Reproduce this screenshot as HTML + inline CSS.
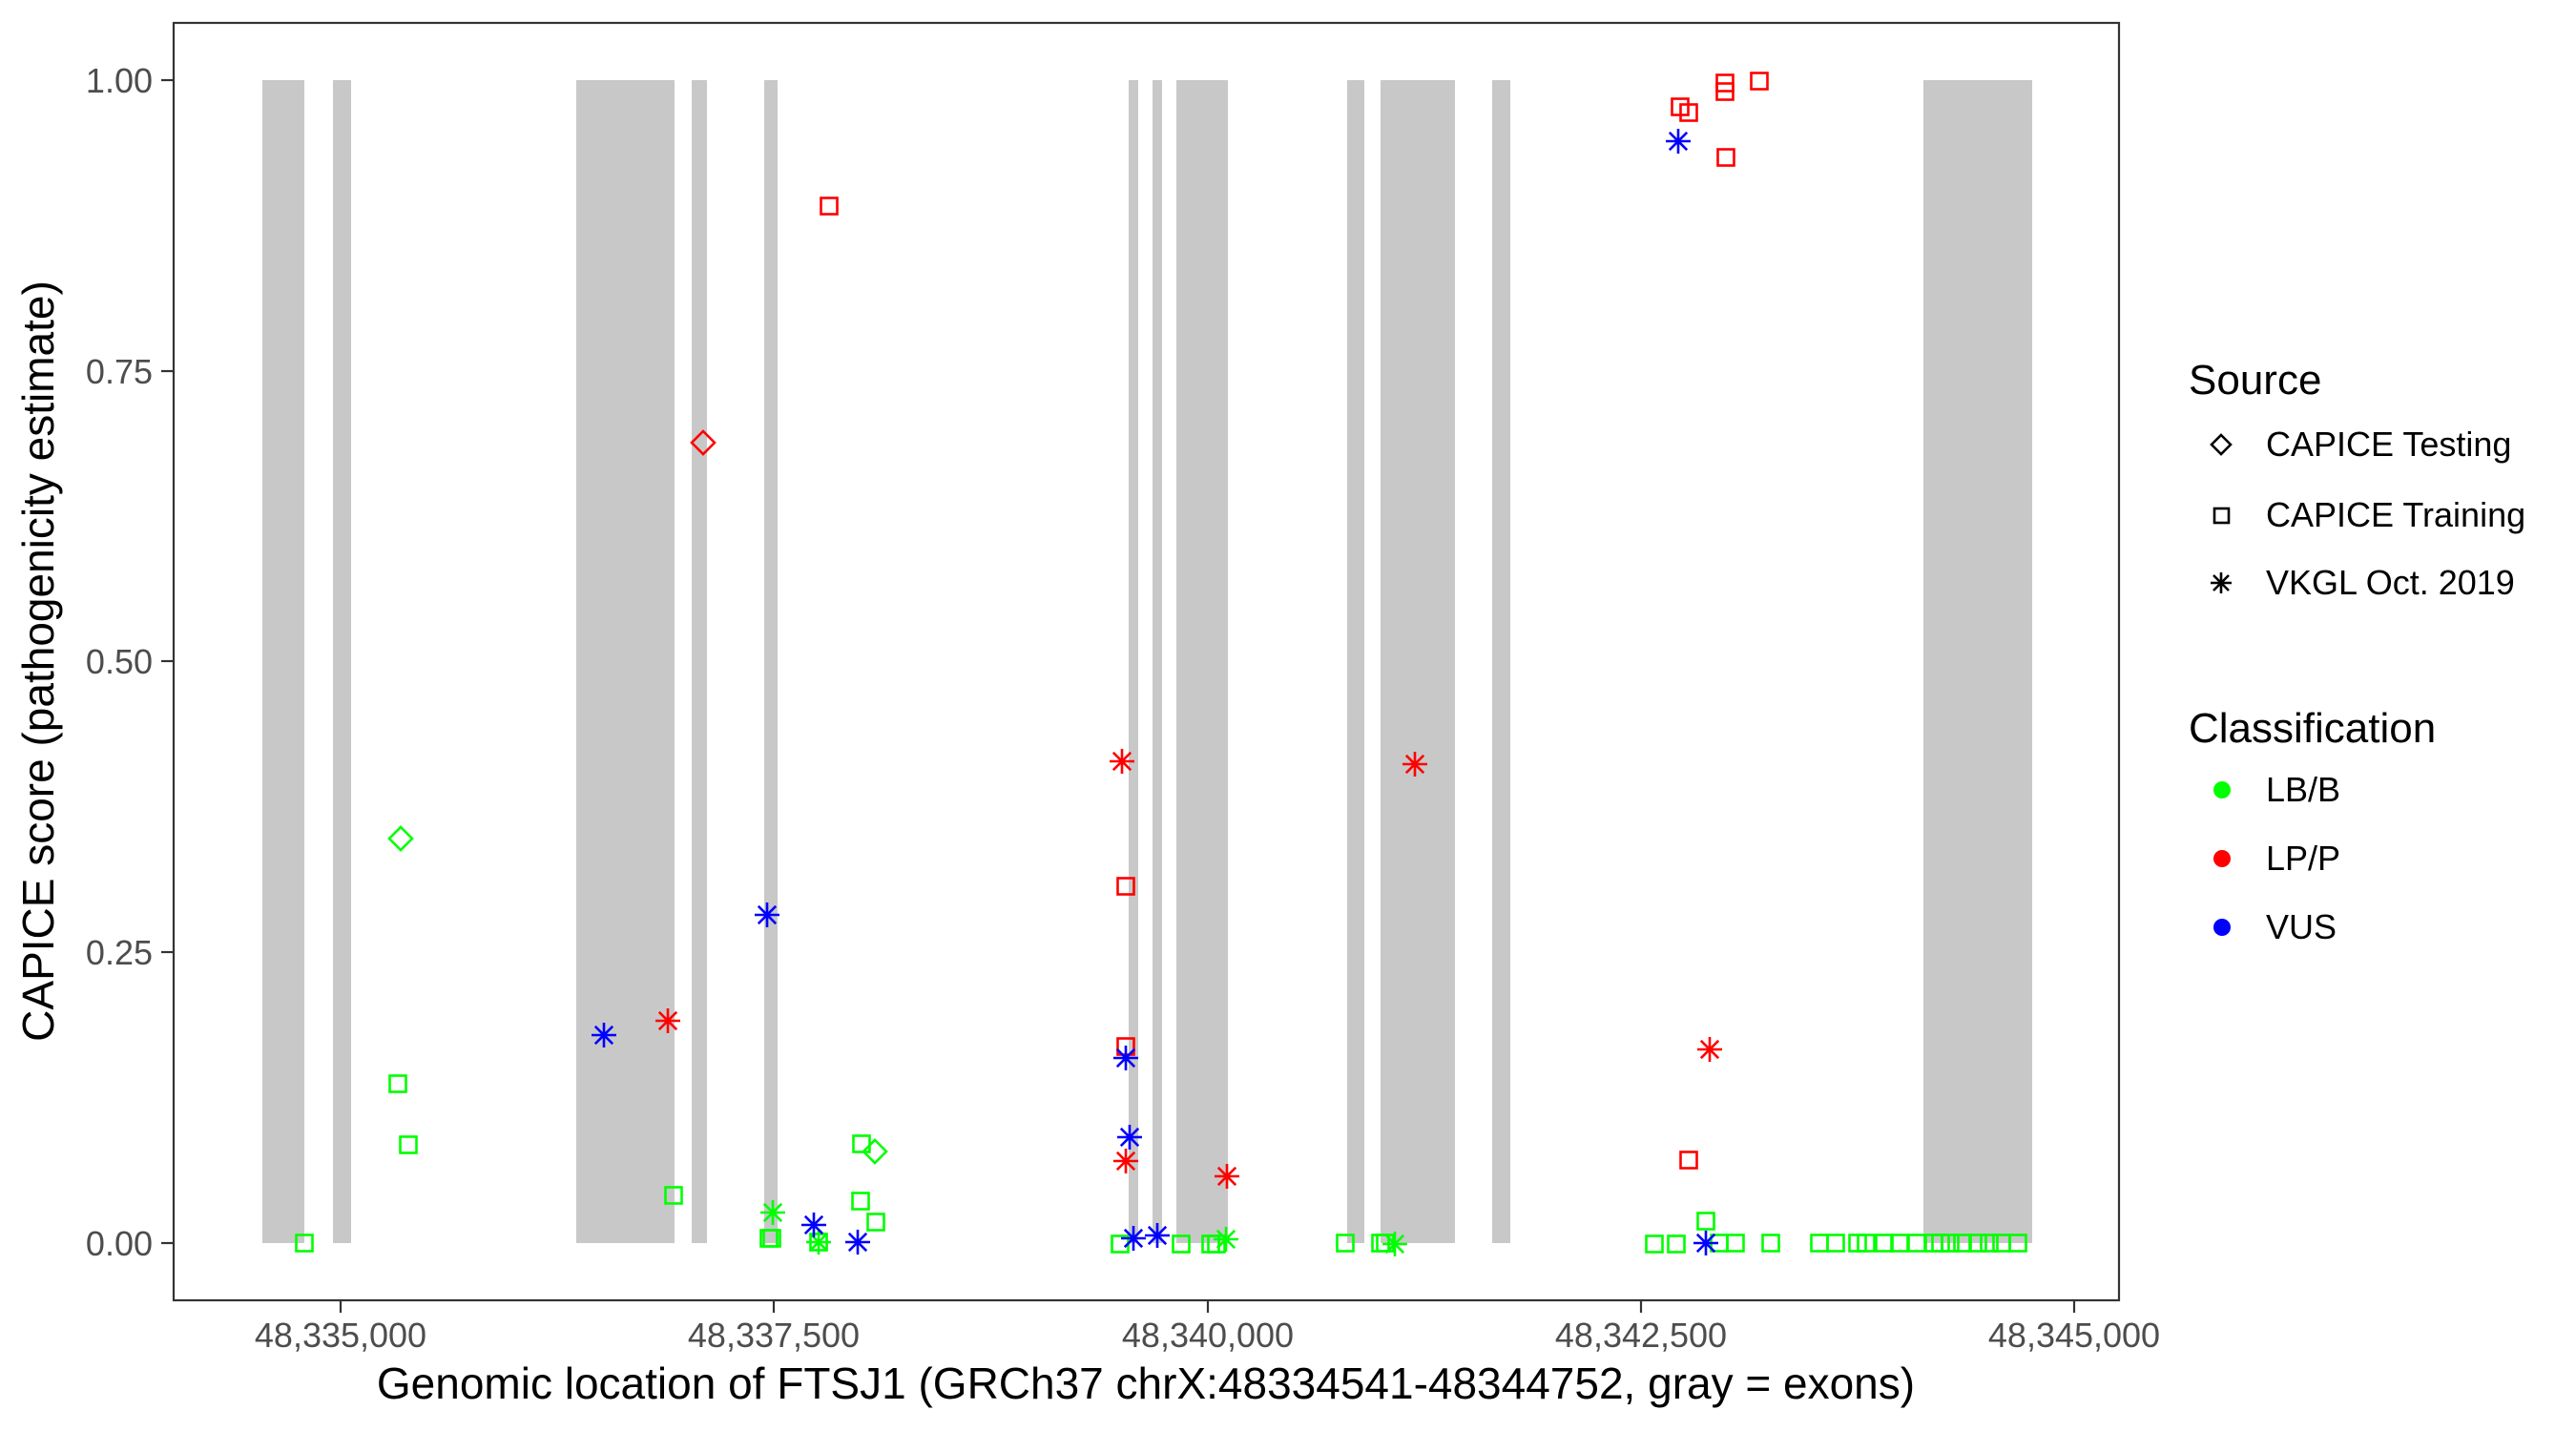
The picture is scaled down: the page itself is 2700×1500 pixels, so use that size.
<!DOCTYPE html>
<html><head><meta charset="utf-8"><style>
html,body{margin:0;padding:0;background:#fff;}
svg{display:block;}
text{font-family:"Liberation Sans",Arial,sans-serif;}
</style></head><body>
<svg width="2700" height="1500" viewBox="0 0 2700 1500" xmlns="http://www.w3.org/2000/svg">
<defs>
<g id="sq"><rect x="-8.5" y="-8.5" width="17" height="17" fill="none" stroke-width="2.6"/></g>
<g id="di"><path d="M0,-12 L12,0 L0,12 L-12,0 Z" fill="none" stroke-width="2.6"/></g>
<g id="st" stroke-width="2.6"><path d="M-13,0 H13 M0,-13 V13 M-9.2,-9.2 L9.2,9.2 M-9.2,9.2 L9.2,-9.2"/></g>
</defs>
<rect width="2700" height="1500" fill="#fff"/>
<g fill="#c8c8c8">
<rect x="275" y="84" width="44" height="1219"/>
<rect x="349" y="84" width="19" height="1219"/>
<rect x="604" y="84" width="103" height="1219"/>
<rect x="725" y="84" width="16" height="1219"/>
<rect x="801" y="84" width="14" height="1219"/>
<rect x="1183" y="84" width="10" height="1219"/>
<rect x="1208" y="84" width="10" height="1219"/>
<rect x="1233" y="84" width="54" height="1219"/>
<rect x="1412" y="84" width="18" height="1219"/>
<rect x="1447" y="84" width="78" height="1219"/>
<rect x="1564" y="84" width="19" height="1219"/>
<rect x="2016" y="84" width="114" height="1219"/>
</g>
<g stroke="#00ff00">
<use href="#sq" x="319" y="1303"/>
<use href="#di" x="420" y="879"/>
<use href="#sq" x="417" y="1136"/>
<use href="#sq" x="428" y="1200"/>
<use href="#sq" x="706" y="1253"/>
<use href="#st" x="810" y="1271"/>
<use href="#sq" x="806" y="1298"/>
<use href="#sq" x="809" y="1298"/>
<use href="#st" x="858" y="1302"/>
<use href="#sq" x="858" y="1302"/>
<use href="#sq" x="903" y="1199"/>
<use href="#di" x="917" y="1207"/>
<use href="#sq" x="902" y="1259"/>
<use href="#sq" x="918" y="1281"/>
<use href="#sq" x="1174" y="1304"/>
<use href="#sq" x="1238" y="1304"/>
<use href="#sq" x="1269" y="1304"/>
<use href="#sq" x="1275" y="1304"/>
<use href="#st" x="1285" y="1299"/>
<use href="#sq" x="1410" y="1303"/>
<use href="#sq" x="1447" y="1303"/>
<use href="#sq" x="1452" y="1303"/>
<use href="#st" x="1462" y="1304"/>
<use href="#sq" x="1734" y="1304"/>
<use href="#sq" x="1757" y="1304"/>
<use href="#sq" x="1788" y="1280"/>
<use href="#sq" x="1802" y="1303"/>
<use href="#sq" x="1819" y="1303"/>
<use href="#sq" x="1856" y="1303"/>
<use href="#sq" x="1907" y="1303"/>
<use href="#sq" x="1924" y="1303"/>
<use href="#sq" x="1947" y="1303"/>
<use href="#sq" x="1956" y="1303"/>
<use href="#sq" x="1975" y="1303"/>
<use href="#sq" x="1991" y="1303"/>
<use href="#sq" x="2009" y="1303"/>
<use href="#sq" x="2027" y="1303"/>
<use href="#sq" x="2034" y="1303"/>
<use href="#sq" x="2044" y="1303"/>
<use href="#sq" x="2057" y="1303"/>
<use href="#sq" x="2073" y="1303"/>
<use href="#sq" x="2085" y="1303"/>
<use href="#sq" x="2098" y="1303"/>
<use href="#sq" x="2115" y="1303"/>
</g>
<g stroke="#ff0000">
<use href="#st" x="700" y="1070"/>
<use href="#di" x="737" y="464"/>
<use href="#sq" x="869" y="216"/>
<use href="#st" x="1176" y="798"/>
<use href="#sq" x="1180" y="929"/>
<use href="#sq" x="1180" y="1097"/>
<use href="#st" x="1180" y="1217"/>
<use href="#st" x="1286" y="1233"/>
<use href="#st" x="1483" y="801"/>
<use href="#sq" x="1761" y="112"/>
<use href="#sq" x="1770" y="118"/>
<use href="#sq" x="1808" y="87"/>
<use href="#sq" x="1808" y="96"/>
<use href="#sq" x="1844" y="85"/>
<use href="#sq" x="1809" y="165"/>
<use href="#st" x="1792" y="1100"/>
<use href="#sq" x="1770" y="1216"/>
</g>
<g stroke="#0000ff">
<use href="#st" x="633" y="1085"/>
<use href="#st" x="804" y="959"/>
<use href="#st" x="853" y="1284"/>
<use href="#st" x="899" y="1302"/>
<use href="#st" x="1180" y="1109"/>
<use href="#st" x="1184" y="1192"/>
<use href="#st" x="1188" y="1298"/>
<use href="#st" x="1213" y="1295"/>
<use href="#st" x="1759" y="148"/>
<use href="#st" x="1788" y="1303"/>
</g>
<rect x="182" y="24" width="2039" height="1339" fill="none" stroke="#333" stroke-width="2.2"/>
<g stroke="#333" stroke-width="2.2">
<line x1="169" x2="182" y1="84" y2="84"/>
<line x1="169" x2="182" y1="389" y2="389"/>
<line x1="169" x2="182" y1="693" y2="693"/>
<line x1="169" x2="182" y1="998" y2="998"/>
<line x1="169" x2="182" y1="1303" y2="1303"/>
<line x1="357" x2="357" y1="1363" y2="1376"/>
<line x1="811" x2="811" y1="1363" y2="1376"/>
<line x1="1266" x2="1266" y1="1363" y2="1376"/>
<line x1="1720" x2="1720" y1="1363" y2="1376"/>
<line x1="2174" x2="2174" y1="1363" y2="1376"/>
</g>
<g fill="#4d4d4d" font-size="36" text-anchor="end">
<text x="160" y="97">1.00</text>
<text x="160" y="402">0.75</text>
<text x="160" y="706">0.50</text>
<text x="160" y="1011">0.25</text>
<text x="160" y="1316">0.00</text>
</g>
<g fill="#4d4d4d" font-size="36" text-anchor="middle">
<text x="357" y="1412">48,335,000</text>
<text x="811" y="1412">48,337,500</text>
<text x="1266" y="1412">48,340,000</text>
<text x="1720" y="1412">48,342,500</text>
<text x="2174" y="1412">48,345,000</text>
</g>
<text x="1201" y="1466" font-size="46" text-anchor="middle" fill="#000">Genomic location of FTSJ1 (GRCh37 chrX:48334541-48344752, gray = exons)</text>
<text transform="translate(56,693) rotate(-90)" font-size="46" text-anchor="middle" fill="#000">CAPICE score (pathogenicity estimate)</text>
<text x="2294" y="413" font-size="44" fill="#000">Source</text>
<g stroke="#000">
<path d="M2328,456 L2338,466 L2328,476 L2318,466 Z" fill="none" stroke-width="2.6"/>
<rect x="2321" y="533" width="15" height="15" fill="none" stroke-width="2.6"/>
<path d="M2317,611 H2339 M2328,600 V622 M2320,603 L2336,619 M2320,619 L2336,603" stroke-width="2.6"/>
</g>
<g font-size="36" fill="#000">
<text x="2375" y="478">CAPICE Testing</text>
<text x="2375" y="552">CAPICE Training</text>
<text x="2375" y="623">VKGL Oct. 2019</text>
</g>
<text x="2294" y="778" font-size="44" fill="#000">Classification</text>
<circle cx="2329" cy="828" r="9" fill="#00ff00"/>
<circle cx="2329" cy="900" r="9" fill="#ff0000"/>
<circle cx="2329" cy="972" r="9" fill="#0000ff"/>
<g font-size="36" fill="#000">
<text x="2375" y="840">LB/B</text>
<text x="2375" y="912">LP/P</text>
<text x="2375" y="984">VUS</text>
</g>
</svg>
</body></html>
